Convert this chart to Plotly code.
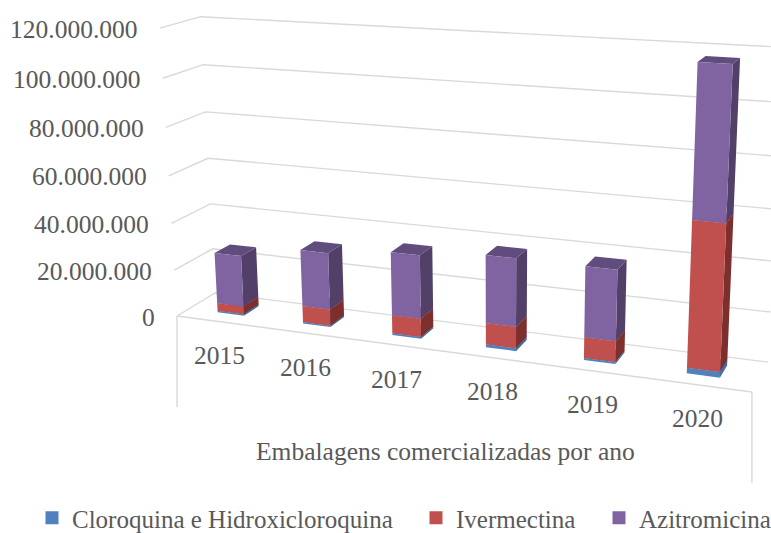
import plotly.graph_objects as go

# ---- data ----
years = ["2015", "2016", "2017", "2018", "2019", "2020"]
cloroquina = [0.7e6, 0.6e6, 0.8e6, 1.2e6, 0.8e6, 2.2e6]
ivermectina = [3.4e6, 6.9e6, 7.6e6, 8.8e6, 8.4e6, 57.0e6]
azitromicina = [21.8e6, 23.8e6, 26.2e6, 27.6e6, 28.2e6, 57.7e6]
series_names = ["Cloroquina e Hidroxicloroquina", "Ivermectina", "Azitromicina"]
tick_values = [0, 20e6, 40e6, 60e6, 80e6, 100e6, 120e6]
tick_labels = ["0", "20.000.000", "40.000.000", "60.000.000", "80.000.000", "100.000.000", "120.000.000"]
axis_title = "Embalagens comercializadas por ano"

# ---- styles ----
front_colors = ["#4F81BD", "#C0504D", "#8064A2"]
side_colors = ["#3A6DA8", "#7D2F2D", "#524068"]
top_colors = ["#3F6A9E", "#A04341", "#614C7E"]
GRID = "#D9D9D9"
TEXT = "#595959"
FONT = "Liberation Serif"
FS = 25.5
LEGEND_FS = 25
W, H = 771, 533
VMAX = 120e6

# ---- the chart's 3D view: vanishing points and scales of a projective camera ----
ORIGIN = (177.0, 316.0)
VP_X, VP_Y, VP_Z = (-3587.0, -182.0), (1085.0, -233.0), (500.0, 5750.0)
SX, SY, SZ = -0.1325, 0.0437, -0.0503


def project(u, d, value):
    """Category fraction u, depth fraction d, value -> pixel position."""
    v = value / VMAX
    w = 1 + SX * u + SY * d + SZ * v
    px = ORIGIN[0] + SX * u * VP_X[0] + SY * d * VP_Y[0] + SZ * v * VP_Z[0]
    py = ORIGIN[1] + SX * u * VP_X[1] + SY * d * VP_Y[1] + SZ * v * VP_Z[1]
    return px / w, py / w


def polyline(points):
    xy = [project(*p) for p in points]
    return [a for a, _ in xy], [b for _, b in xy]


fig = go.Figure()

# ---- walls and floor ----
gx, gy = [], []
for t in tick_values:
    xs, ys = polyline([(0, 0, t), (0, 1, t), (1, 1, t)])
    gx += xs + [None]
    gy += ys + [None]
xs, ys = polyline([(0, 0, 0), (1, 0, 0)])
gx += xs + [None]
gy += ys + [None]
AX, AY = project(0, 0, 0)
BX, BY = project(1, 0, 0)
DROP = 91
gx += [AX, AX, None, BX, BX]
gy += [AY, AY + DROP, None, BY, BY + DROP]
fig.add_trace(go.Scatter(x=gx, y=gy, mode="lines", line=dict(color=GRID, width=1.4),
                         showlegend=False, hoverinfo="skip"))

# ---- stacked 3D bars ----
BAR_W, D0, D1 = 0.052, 0.31, 0.72
series = [cloroquina, ivermectina, azitromicina]
n = len(years)
bases = [0.0] * n
for i, vals in enumerate(series):
    fx, fy, sx, sy, tx, ty = [], [], [], [], [], []
    for c, val in enumerate(vals):
        u0 = (c + 0.5) / n - BAR_W / 2
        u1 = u0 + BAR_W
        b, e = bases[c], bases[c] + val
        a, o = polyline([(u0, D0, b), (u1, D0, b), (u1, D0, e), (u0, D0, e), (u0, D0, b)])
        fx += a + [None]
        fy += o + [None]
        a, o = polyline([(u1, D0, b), (u1, D1, b), (u1, D1, e), (u1, D0, e), (u1, D0, b)])
        sx += a + [None]
        sy += o + [None]
        a, o = polyline([(u0, D0, e), (u1, D0, e), (u1, D1, e), (u0, D1, e), (u0, D0, e)])
        tx += a + [None]
        ty += o + [None]
        bases[c] = e
    for x_, y_, col in ((sx, sy, side_colors[i]), (tx, ty, top_colors[i]), (fx, fy, front_colors[i])):
        fig.add_trace(go.Scatter(x=x_, y=y_, mode="lines", fill="toself", fillcolor=col,
                                 line=dict(width=0, color=col), showlegend=False, hoverinfo="skip"))

# ---- legends: one per entry so that each sits where the reference has it ----
legend_x = [32, 416, 599]
for i, nm in enumerate(series_names):
    key = "legend" if i == 0 else f"legend{i + 1}"
    fig.add_trace(go.Scatter(x=[None], y=[None], mode="markers", name=nm, legend=key,
                             marker=dict(symbol="square", size=13, color=front_colors[i])))
    fig.update_layout({key: dict(x=legend_x[i] / W, xanchor="left", y=(533 - 495) / H, yanchor="top",
                                 bgcolor="rgba(0,0,0,0)", font=dict(size=LEGEND_FS, color=TEXT, family=FONT))})

# ---- texts ----
ann = []
for t, lab in zip(tick_values, tick_labels):
    x_, y_ = project(0, 0, t)
    ann.append(dict(x=x_, y=y_, text=lab, xanchor="right", xshift=-20, yshift=-1))
for c, yr in enumerate(years):
    x_, y_ = project((c + 0.5) / n, 0, 0)
    ann.append(dict(x=x_, y=y_, text=yr, xanchor="center", yshift=-34))
ann.append(dict(x=445, y=451, text=axis_title, xanchor="center"))
for a in ann:
    a.update(showarrow=False, yanchor="middle", font=dict(size=FS, color=TEXT, family=FONT))

fig.update_layout(
    width=W, height=H, margin=dict(l=0, r=0, t=0, b=0, autoexpand=False),
    paper_bgcolor="white", plot_bgcolor="white",
    xaxis=dict(range=[0, W], visible=False, fixedrange=True),
    yaxis=dict(range=[H, 0], visible=False, fixedrange=True),
    annotations=ann, hovermode=False,
)
fig.write_html("out.html", config=dict(displayModeBar=False),
               post_script="document.body.style.margin='0';document.documentElement.style.overflow='hidden';")
